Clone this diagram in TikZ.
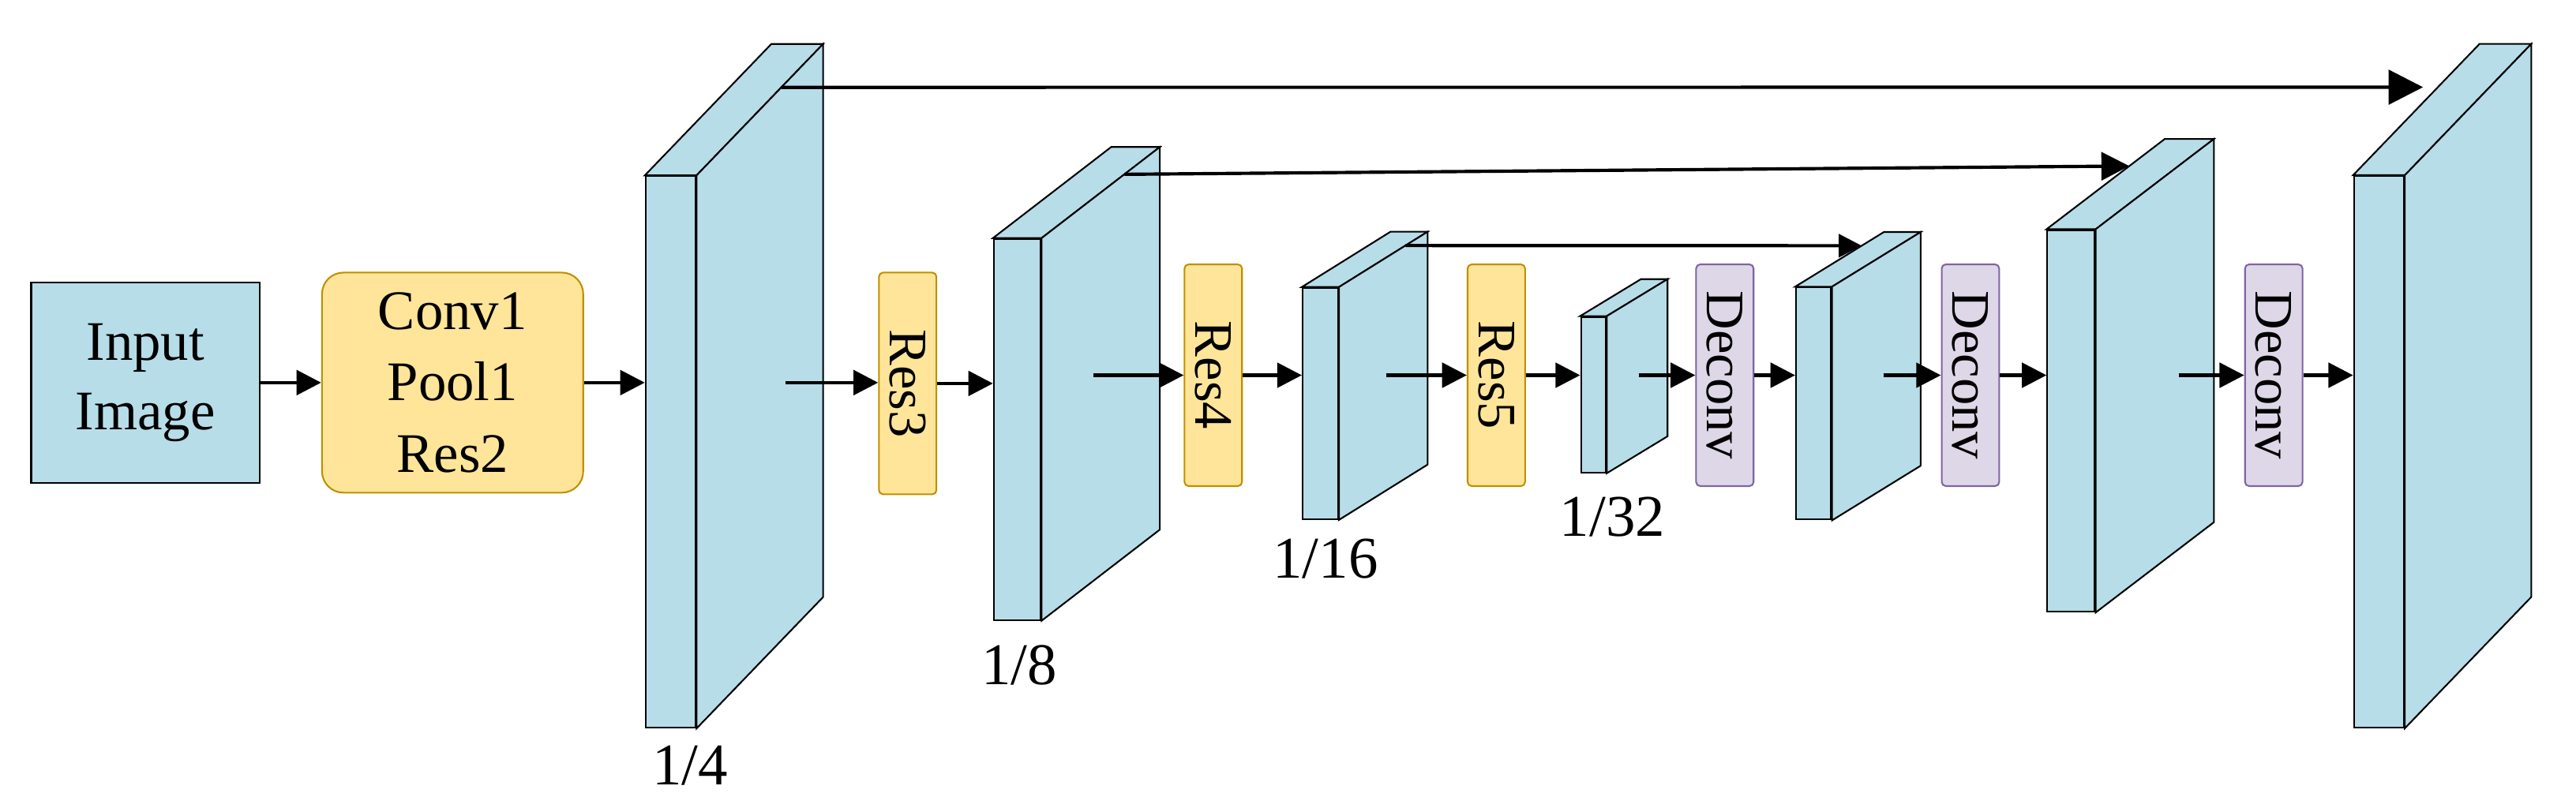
\documentclass[tikz,border=0pt]{standalone}
\usepackage{fontspec}
\setmainfont{Liberation Serif}
\usepackage{graphicx}
\usetikzlibrary{arrows.meta,calc}
\definecolor{mapblue}{HTML}{B7DDE8}
\definecolor{resfill}{HTML}{FFE599}
\definecolor{resline}{HTML}{BF9000}
\definecolor{decfill}{HTML}{DDD7E7}
\definecolor{decline}{HTML}{8064A2}
\newcommand{\fmap}[7]{%
  \node[fmfront,minimum width=#4pt,minimum height=#5pt] (#1) at (#2,#3) {};
  \coordinate (#1-a) at ($(#1.north west)+(#6,#7)$);
  \coordinate (#1-b) at ($(#1.north east)+(#6,#7)$);
  \coordinate (#1-c) at ($(#1.south east)+(#6,#7)$);
  \draw[fmface] (#1.north west) -- (#1-a) -- (#1-b) -- (#1.north east) -- cycle;
  \draw[fmface] (#1.north east) -- (#1-b) -- (#1-c) -- (#1.south east) -- cycle;
}
\tikzset{
  fmfront/.style={
    draw,
    fill=mapblue,
    line width=1pt,
    anchor=north west,
    inner sep=0pt
  },
  fmface/.style={
    draw,
    fill=mapblue,
    line width=1pt,
    line join=miter
  },
  inbox/.style={
    draw,
    fill=mapblue,
    line width=1.2pt,
    minimum width=139pt,
    minimum height=122pt,
    align=center,
    font=\fontsize{34}{42}\selectfont
  },
  convbox/.style={
    draw=resline,
    fill=resfill,
    line width=1pt,
    rounded corners=13pt,
    minimum width=159pt,
    minimum height=134pt,
    align=center,
    font=\fontsize{34}{43.5}\selectfont
  },
  resbox/.style={
    draw=resline,
    fill=resfill,
    line width=1pt,
    rounded corners=2.5pt,
    minimum width=35pt,
    minimum height=135pt,
    inner sep=0pt,
    font=\fontsize{33}{40}\selectfont
  },
  deconvbox/.style={
    resbox,
    draw=decline,
    fill=decfill
  },
  scalelabel/.style={
    font=\fontsize{36}{40}\selectfont,
    inner sep=0pt
  },
  flow/.style={-{Triangle[length=15pt,width=15pt]},line width=2.2pt},
  skip/.style={-{Triangle[length=#1,width=#1]},line width=2pt}
}

\begin{document}
\begin{tikzpicture}[x=1pt,y=-1pt]
  \useasboundingbox (0,0) rectangle (1568,494);
  \node[inbox] (input) at (88.5,233) {Input\\Image};
  \node[convbox] (conv) at (275.5,233) {Conv1\\Pool1\\Res2};
  \fmap{s1}{392.5}{106.8}{30.5}{335.8}{77}{-80}
  \node[resbox] (res3) at (552.5,233.5) {\rotatebox{-90}{Res3}};
  \fmap{s2}{604.4}{145}{28.6}{232}{72}{-55.5}
  \node[resbox] (res4) at (738.5,228.5) {\rotatebox{-90}{Res4}};
  \fmap{s3}{792.4}{174.8}{21.6}{140.8}{54}{-33.7}
  \node[resbox] (res5) at (910.8,228.5) {\rotatebox{-90}{Res5}};
  \fmap{s4}{961.8}{192.5}{15.2}{94.7}{37}{-22.5}
  \node[deconvbox] (dec1) at (1049.9,228.5) {\rotatebox{-90}{Deconv}};
  \fmap{s5}{1092.7}{174.6}{21.4}{141.3}{54}{-33.3}
  \node[deconvbox] (dec2) at (1199.4,228.5) {\rotatebox{-90}{Deconv}};
  \fmap{s6}{1245.7}{139.6}{28.9}{232.4}{72}{-55}
  \node[deconvbox] (dec3) at (1384,228.5) {\rotatebox{-90}{Deconv}};
  \fmap{s7}{1432.3}{106.7}{30.5}{335.8}{77}{-80}
  \node[scalelabel] (l4) at (420,466) {1/4};
  \node[scalelabel] (l8) at (620.5,405) {1/8};
  \node[scalelabel] (l16) at (806.8,340.4) {1/16};
  \node[scalelabel] (l32) at (981.5,315) {1/32};
  \coordinate (s1out) at (478,233);
  \coordinate (s2out) at (665.6,228.5);
  \coordinate (s3out) at (843.6,228.5);
  \coordinate (s4out) at (997.6,228.5);
  \coordinate (s5out) at (1146.4,228.5);
  \coordinate (s6out) at (1326.4,228.5);
  \draw[flow] (input) -- (conv);
  \draw[flow] (conv.east) -- (conv.east -| s1.west);
  \draw[flow] (s1out) -- (s1out -| res3.west);
  \draw[flow] (res3.east) -- (res3.east -| s2.west);
  \draw[flow] (s2out) -- (s2out -| res4.west);
  \draw[flow] (res4.east) -- (res4.east -| s3.west);
  \draw[flow] (s3out) -- (s3out -| res5.west);
  \draw[flow] (res5.east) -- (res5.east -| s4.west);
  \draw[flow] (s4out) -- (s4out -| dec1.west);
  \draw[flow] (dec1.east) -- (dec1.east -| s5.west);
  \draw[flow] (s5out) -- (s5out -| dec2.west);
  \draw[flow] (dec2.east) -- (dec2.east -| s6.west);
  \draw[flow] (s6out) -- (s6out -| dec3.west);
  \draw[flow] (dec3.east) -- (dec3.east -| s7.west);
  \coordinate (k1a) at ($(s1.north east)!0.67!(s1-b)$);
  \coordinate (k1b) at ($(s7.north west)!0.67!(s7-a)$);
  \coordinate (k2a) at ($(s2.north east)!0.7!(s2-b)$);
  \coordinate (k2b) at ($(s6.north west)!0.7!(s6-a)$);
  \coordinate (k3a) at ($(s3.north east)!0.75!(s3-b)$);
  \coordinate (k3b) at ($(s5.north west)!0.75!(s5-a)$);
  \draw[skip=21pt,shorten >=9pt] (k1a) -- (k1b);
  \draw[skip=17pt] (k2a) -- (k2b);
  \draw[skip=14pt] (k3a) -- (k3b);
\end{tikzpicture}
\end{document}
